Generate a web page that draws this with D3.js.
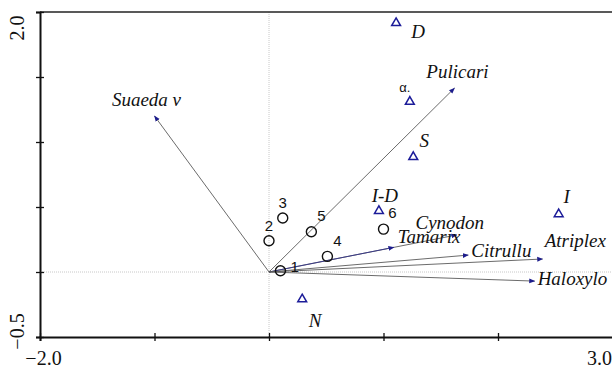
<!DOCTYPE html>
<meta charset="utf-8">
<script src="https://d3js.org/d3.v7.min.js"></script>
<style>
  body { margin: 0; background: #fff; }
  svg { display: block; }
</style>
<body>
<div id="chart"></div>
<script>
// species arrows (biplot scores)
var species = ["Suaeda v", "Pulicari", "Cynodon", "Tamarix", "Citrullu", "Atriplex", "Haloxylo"];
var speciesX = [-1.00, 1.62, 1.64, 1.09, 1.74, 2.39, 2.32];
var speciesY = [1.20, 1.415, 0.285, 0.19, 0.13, 0.10, -0.07];

// sites (circles)
var sites = ["1", "2", "3", "4", "5", "6"];
var sitesX = [0.10, 0.00, 0.12, 0.51, 0.37, 1.00];
var sitesY = [0.01, 0.24, 0.415, 0.12, 0.31, 0.33];

// group centroids (triangles)
var groups = ["D", "\u03b1.", "S", "I-D", "I", "N"];
var groupsX = [1.11, 1.23, 1.26, 0.96, 2.53, 0.29];
var groupsY = [1.915, 1.31, 0.885, 0.47, 0.445, -0.21];

var xTicks = [-2, -1, 0, 1, 2, 3];
var yTicks = [-0.5, 0, 0.5, 1, 1.5, 2];

// label placement (pixels from the mark)
var speciesLab = {
  "Suaeda v": [-8, -10, "middle"], "Pulicari": [3, -10, "middle"],
  "Cynodon": [-7, -6, "middle"], "Tamarix": [4, -4, "start"],
  "Citrullu": [3, 2, "start"], "Atriplex": [2, -12, "start"],
  "Haloxylo": [3, 4, "start"]
};
var siteLab = {"1": [10, 1, "start"], "2": [0, -10, "middle"], "3": [0, -10, "middle"],
  "4": [10, -10, "middle"], "5": [10, -11, "middle"], "6": [9, -11, "middle"]};
var groupLab = {"D": [22, 15], "\u03b1.": [-5, -10], "S": [11, -10], "I-D": [6, -9], "I": [8, -11], "N": [13, 28]};

var serif = "'Liberation Serif', 'Times New Roman', serif";
var sans = "'Liberation Sans', Arial, sans-serif";

var W = 612, H = 370;
var svg = d3.select("#chart").append("svg")
  .attr("width", W).attr("height", H);

var x = d3.scaleLinear().domain([-2, 3]).range([40, 612.5]);
var y = d3.scaleLinear().domain([-0.5, 2]).range([337, 12]);

// reference lines at 0
svg.append("line")
  .attr("x1", x(-2)).attr("x2", x(3)).attr("y1", y(0)).attr("y2", y(0))
  .attr("stroke", "#c8c8c8").attr("stroke-width", 1).attr("stroke-dasharray", "1,1");
svg.append("line")
  .attr("x1", x(0)).attr("x2", x(0)).attr("y1", y(2)).attr("y2", y(-0.5))
  .attr("stroke", "#c8c8c8").attr("stroke-width", 1).attr("stroke-dasharray", "1,1");

// top border
svg.append("line")
  .attr("x1", x(-2)).attr("x2", x(3)).attr("y1", y(2)).attr("y2", y(2))
  .attr("stroke", "#222").attr("stroke-width", 1.5);

// axes
var xAxis = svg.append("g")
  .attr("transform", "translate(0," + y(-0.5) + ")")
  .call(d3.axisBottom(x).tickValues(xTicks).tickSize(4)
    .tickFormat(function(d) { return (d === -2 || d === 3) ? d3.format(".1f")(d) : ""; }));
xAxis.select(".domain").attr("stroke", "#111").attr("stroke-width", 2);
xAxis.selectAll(".tick line").attr("y1", -4).attr("stroke", "#111").attr("stroke-width", 1.3);
xAxis.selectAll(".tick text")
  .attr("y", 28).attr("dy", 0)
  .style("font-family", serif)
  .style("font-size", "20px").attr("fill", "#111")
  .attr("text-anchor", function(d) { return d === 3 ? "end" : "middle"; })
  .attr("x", function(d) { return d === 3 ? -1 : 3; });

var yAxis = svg.append("g")
  .attr("transform", "translate(" + x(-2) + ",0)")
  .call(d3.axisLeft(y).tickValues(yTicks).tickSize(4)
    .tickFormat(function(d) { return (d === -0.5 || d === 2) ? d3.format(".1f")(d) : ""; }));
yAxis.select(".domain").attr("stroke", "#111").attr("stroke-width", 2);
yAxis.selectAll(".tick line").attr("x1", 4).attr("stroke", "#111").attr("stroke-width", 1.3);
yAxis.selectAll(".tick text")
  .attr("x", null).attr("dy", null)
  .attr("transform", function(d) { return "translate(-16," + (d === 2 ? 3 : -6) + ") rotate(-90)"; })
  .attr("text-anchor", function(d) { return d === 2 ? "end" : "middle"; })
  .style("font-family", serif)
  .style("font-size", "20px").attr("fill", "#111");

// arrowhead
svg.append("defs").append("marker")
  .attr("id", "head").attr("viewBox", "0 0 10 10")
  .attr("refX", 9).attr("refY", 5)
  .attr("markerWidth", 6).attr("markerHeight", 6)
  .attr("markerUnits", "userSpaceOnUse")
  .attr("orient", "auto")
  .append("path").attr("d", "M0,1 L10,5 L0,9 Z").attr("fill", "#1c1c8c");

var sp = species.map(function(n, i) { return {name: n, x: speciesX[i], y: speciesY[i]}; });

svg.append("g").selectAll("line")
  .data(sp).enter().append("line")
  .attr("x1", x(0)).attr("y1", y(0))
  .attr("x2", function(d) { return x(d.x); })
  .attr("y2", function(d) { return y(d.y); })
  .attr("stroke", function(d) { return d.name === "Tamarix" ? "#34348a" : "#5a5a5a"; })
  .attr("stroke-width", 0.9)
  .attr("marker-end", "url(#head)");

svg.append("g").selectAll("text")
  .data(sp).enter().append("text")
  .attr("x", function(d) { return x(d.x) + speciesLab[d.name][0]; })
  .attr("y", function(d) { return y(d.y) + speciesLab[d.name][1]; })
  .attr("text-anchor", function(d) { return speciesLab[d.name][2]; })
  .style("font-family", serif).style("font-style", "italic").style("font-size", "19px")
  .attr("fill", "#111")
  .text(function(d) { return d.name; });

// sites
var st = sites.map(function(n, i) { return {name: n, x: sitesX[i], y: sitesY[i]}; });
svg.append("g").selectAll("circle")
  .data(st).enter().append("circle")
  .attr("cx", function(d) { return x(d.x); })
  .attr("cy", function(d) { return y(d.y); })
  .attr("r", 5)
  .attr("fill", "none").attr("stroke", "#111").attr("stroke-width", 1.4);
svg.append("g").selectAll("text")
  .data(st).enter().append("text")
  .attr("x", function(d) { return x(d.x) + siteLab[d.name][0]; })
  .attr("y", function(d) { return y(d.y) + siteLab[d.name][1]; })
  .attr("text-anchor", function(d) { return siteLab[d.name][2]; })
  .style("font-family", sans).style("font-size", "15px")
  .attr("fill", "#111")
  .text(function(d) { return d.name; });

// groups
var gr = groups.map(function(n, i) { return {name: n, x: groupsX[i], y: groupsY[i]}; });
var tri = d3.symbol().type(d3.symbolTriangle).size(34);
svg.append("g").selectAll("path")
  .data(gr).enter().append("path")
  .attr("d", tri)
  .attr("transform", function(d) { return "translate(" + x(d.x) + "," + y(d.y) + ")"; })
  .attr("fill", "none").attr("stroke", "#1c1c99").attr("stroke-width", 1.5);
svg.append("g").selectAll("text")
  .data(gr).enter().append("text")
  .attr("x", function(d) { return x(d.x) + groupLab[d.name][0]; })
  .attr("y", function(d) { return y(d.y) + groupLab[d.name][1]; })
  .attr("text-anchor", "middle")
  .style("font-family", function(d) { return d.name === "\u03b1." ? sans : serif; })
  .style("font-style", function(d) { return d.name === "\u03b1." ? "normal" : "italic"; })
  .style("font-size", function(d) { return d.name === "\u03b1." ? "13px" : "19px"; })
  .attr("fill", "#111")
  .text(function(d) { return d.name; });
</script>
</body>
</html>
